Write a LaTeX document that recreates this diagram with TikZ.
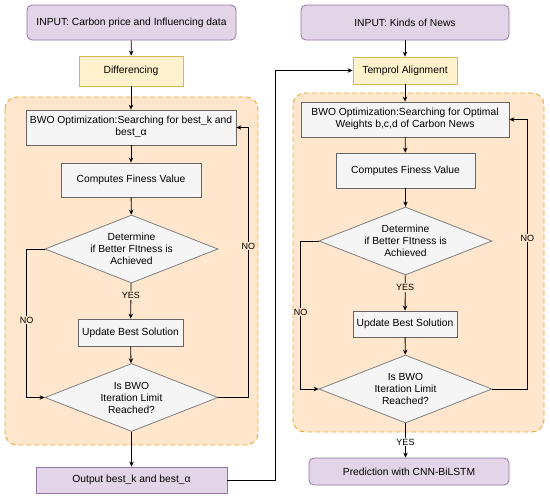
\documentclass[tikz,border=0pt]{standalone}
\usepackage{fontspec}
\setmainfont{Liberation Sans}
\usepackage{tikz}
\usepackage{xcolor}
\usetikzlibrary{shapes.geometric, arrows.meta, positioning, calc, backgrounds}
\definecolor{cPurple}{HTML}{E1D5E7}
\definecolor{cPurpleLine}{HTML}{9673A6}
\definecolor{cYellow}{HTML}{FFF2CC}
\definecolor{cYellowLine}{HTML}{D6B656}
\definecolor{cGrey}{HTML}{F5F5F5}
\definecolor{cGreyLine}{HTML}{666666}
\definecolor{cOrange}{HTML}{FFE6CC}
\definecolor{cOrangeLine}{HTML}{E8A93A}
\tikzset{
	iobox/.style    ={rectangle, rounded corners=5pt, align=center, draw=cPurpleLine, fill=cPurple, line width=0.8pt},
	prepbox/.style  ={rectangle, align=center, draw=cYellowLine, fill=cYellow, line width=0.8pt},
	process/.style  ={rectangle, align=center, draw=cGreyLine, fill=cGrey, line width=0.8pt},
	decision/.style ={diamond, aspect=2.5, minimum width=173pt, minimum height=68pt, align=center, draw=gray, fill=cGrey, inner sep=-7pt, line width=0.8pt},
	flowarrow/.style={-{Stealth[length=5pt, width=4.5pt]}, line width=0.8pt},
	% loop container and edge labels
	loopbox/.style  ={draw=cOrangeLine, fill=cOrange, dashed, dash pattern=on 5pt off 3pt, rounded corners=12pt, line width=0.9pt},
	elabel/.style   ={font=\fontsize{9}{10}\selectfont, inner sep=1pt},
}

\begin{document}
\begin{tikzpicture}[x=1pt, y=-1pt, font=\fontsize{10.3}{12}\selectfont]
	\useasboundingbox (0,0) rectangle (550,499);

	% containers
	\fill[white] (0,0) rectangle (550,499);
	\draw[loopbox] (5,97) rectangle (258,445);
	\draw[loopbox] (293,93) rectangle (544,432);

	% left column
	\node[iobox, minimum width=209pt, minimum height=35pt] (inL) at (131.5,22.5) {INPUT: Carbon price and Influencing data};
	\node[prepbox, minimum width=104pt, minimum height=30pt] (difL) at (131,71) {Differencing};
	\node[process, minimum width=210pt, minimum height=35pt, inner sep=1pt] (bwoL) at (131,127.5) {\begin{tabular}{@{}c@{}}BWO Optimization:Searching for best\_k and\\best\_α\end{tabular}};
	\node[process, minimum width=140pt, minimum height=34pt] (fitL) at (131,180) {Computes Finess Value};
	\node[decision] (detL) at (131.5,249) {Determine\\if Better FItness is\\Achieved};
	\node[process, minimum width=105pt, minimum height=27pt] (updL) at (130.5,332.5) {Update Best Solution};
	\node[decision] (itL) at (131.5,397.5) {Is BWO\\Iteration Limit\\Reached?};
	\node[iobox, rounded corners=0pt, minimum width=191pt, minimum height=26pt] (outL) at (131.5,480) {Output best\_k and best\_α};

	% right column
	\node[iobox, minimum width=208pt, minimum height=35pt] (inR) at (405,22.5) {INPUT: Kinds of News};
	\node[prepbox, minimum width=104pt, minimum height=27pt] (temR) at (405,70.5) {Temprol Alignment};
	\node[process, minimum width=208pt, minimum height=35pt, inner sep=1pt] (bwoR) at (405,119.5) {\begin{tabular}{@{}c@{}}BWO Optimization:Searching for Optimal\\Weights b,c,d of Carbon News\end{tabular}};
	\node[process, minimum width=139pt, minimum height=35pt] (fitR) at (405.5,170.5) {Computes Finess Value};
	\node[decision] (detR) at (405.5,241) {Determine\\if Better FItness is\\Achieved};
	\node[process, minimum width=104pt, minimum height=26pt] (updR) at (405,324) {Update Best Solution};
	\node[decision] (itR) at (405.5,389) {Is BWO\\Iteration Limit\\Reached?};
	\node[iobox, minimum width=200pt, minimum height=27pt] (preR) at (409,471.5) {Prediction with CNN-BiLSTM};

	% left flow
	\draw[flowarrow] (inL) -- (difL);
	\draw[flowarrow] (difL) -- (bwoL);
	\draw[flowarrow] (bwoL) -- (fitL);
	\draw[flowarrow] (fitL) -- (detL);
	\draw[flowarrow] (detL) -- node[elabel, fill=cOrange, pos=0.35] {YES} (updL);
	\draw[flowarrow] (updL) -- (itL);
	\draw[flowarrow] (itL) -- (outL);
	\draw[flowarrow] (detL.west) -- ++(-18,0) |- node[elabel, fill=cOrange, pos=0.24] {NO} (itL.west);
	\draw[flowarrow] (itL.east) -- ++(30,0) |- node[elabel, fill=cOrange, pos=0.28] {NO} (bwoL.east);
	\draw[flowarrow] (outL.east) -- ++(48,0) |- (temR.west);

	% right flow
	\draw[flowarrow] (inR) -- (temR);
	\draw[flowarrow] (temR) -- (bwoR);
	\draw[flowarrow] (bwoR) -- (fitR);
	\draw[flowarrow] (fitR) -- (detR);
	\draw[flowarrow] (detR) -- node[elabel, fill=cOrange, pos=0.35] {YES} (updR);
	\draw[flowarrow] (updR) -- (itR);
	\draw[flowarrow] (detR.west) -- ++(-18,0) |- node[elabel, fill=cOrange, pos=0.24] {NO} (itR.west);
	\draw[flowarrow] (itR.east) -- ++(35,0) |- node[elabel, fill=cOrange, pos=0.28] {NO} (bwoR.east);
	\draw[flowarrow] (itR.south) -- node[elabel, fill=white, pos=0.55] {YES} (itR.south |- preR.north);
\end{tikzpicture}
\end{document}
